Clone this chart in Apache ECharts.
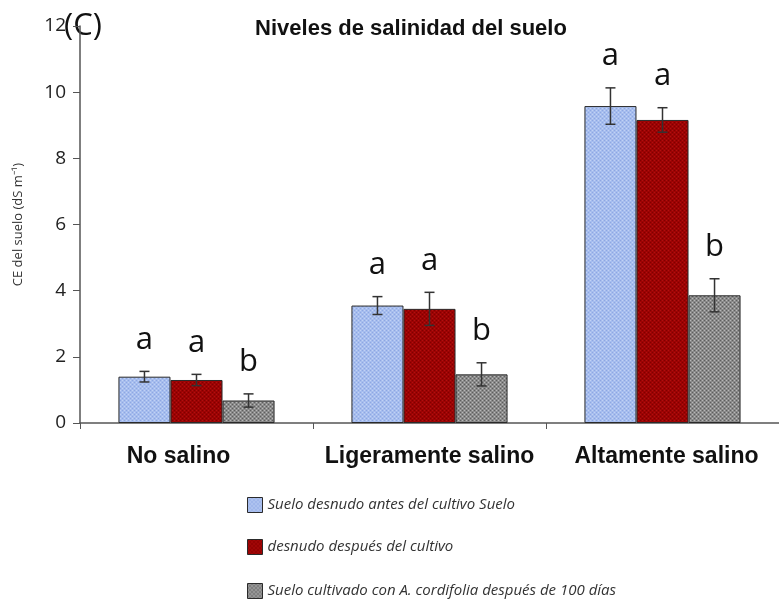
<!DOCTYPE html>
<html><head><meta charset="utf-8">
<script src="https://cdn.jsdelivr.net/npm/echarts@6/dist/echarts.min.js"></script>
<style>html,body{margin:0;padding:0;background:#fff}#c{width:779px;height:600px}</style>
</head><body><div id="c"></div>
<script>
var categories = ['No salino', 'Ligeramente salino', 'Altamente salino'];
var seriesNames = ['Suelo desnudo antes del cultivo Suelo', 'desnudo después del cultivo', 'Suelo cultivado con A. cordifolia después de 100 días'];
var antesValues = [1.40, 3.55, 9.58];
var antesErr = [0.16, 0.27, 0.55];
var antesLetters = ['a', 'a', 'a'];
var despuesValues = [1.30, 3.45, 9.16];
var despuesErr = [0.17, 0.50, 0.37];
var despuesLetters = ['a', 'a', 'a'];
var cultivadoValues = [0.68, 1.47, 3.86];
var cultivadoErr = [0.20, 0.35, 0.50];
var cultivadoLetters = ['b', 'b', 'b'];
var yTicks = [0, 2, 4, 6, 8, 10, 12];

function pattern(base, dot, alt) {
  var c = document.createElement('canvas');
  c.width = 4; c.height = 4;
  var g = c.getContext('2d');
  g.fillStyle = base; g.fillRect(0, 0, 4, 4);
  g.fillStyle = dot;
  g.fillRect(0, 0, 1, 1); g.fillRect(2, 2, 1, 1);
  if (alt) { g.fillStyle = alt; g.fillRect(2, 0, 1, 1); g.fillRect(0, 2, 1, 1); }
  return { image: c, repeat: 'repeat' };
}
var fills = [
  pattern('#a6bdee', '#8ea7e2', '#c2d2f4'),
  pattern('#9c0303', '#7e0000', '#b01010'),
  pattern('#8a8a8a', '#5e5e5e', '#b8b8b8')
];

var chart = echarts.init(document.getElementById('c'));
var vals = [antesValues, despuesValues, cultivadoValues];
var errs = [antesErr, despuesErr, cultivadoErr];
var letters = [antesLetters, despuesLetters, cultivadoLetters];
var gapRatio = 0.33;

var series = [];
for (var s = 0; s < 3; s++) {
  series.push({
    name: seriesNames[s], type: 'bar', data: vals[s],
    barGap: '0%', barCategoryGap: '33%',
    itemStyle: { color: fills[s], borderColor: '#2a2a2a', borderWidth: 1 },
    emphasis: { disabled: true }
  });
}
for (var s2 = 0; s2 < 3; s2++) {
  (function (si) {
    var d = vals[si].map(function (v, i) { return [i, v, errs[si][i]]; });
    series.push({
      type: 'custom', name: seriesNames[si] + '_err', z: 10,
      silent: true,
      data: d,
      encode: { x: 0, y: 1 },
      renderItem: function (params, api) {
        var ci = api.value(0), v = api.value(1), e = api.value(2);
        var band = api.size([1, 0])[0];
        var bw = band * (1 - gapRatio) / 3;
        var c = api.coord([ci, v]);
        var x = c[0] + (si - 1) * bw;
        var top = api.coord([ci, v + e])[1];
        var bot = api.coord([ci, v - e])[1];
        var cap = 5;
        var st = { stroke: '#333', lineWidth: 1.5 };
        return { type: 'group', children: [
          { type: 'line', shape: { x1: x, y1: top, x2: x, y2: bot }, style: st },
          { type: 'line', shape: { x1: x - cap, y1: top, x2: x + cap, y2: top }, style: st },
          { type: 'line', shape: { x1: x - cap, y1: bot, x2: x + cap, y2: bot }, style: st },
          { type: 'text', style: { text: letters[si][ci], x: x, y: top - 16, align: 'center', verticalAlign: 'bottom',
            fontSize: 31, fontFamily: 'Open Sans', fill: '#111' } }
        ] };
      }
    });
  })(s2);
}

var legendTops = [497, 539, 583];
var legends = seriesNames.map(function (n, i) {
  return {
    data: [n], orient: 'vertical', left: 247, top: legendTops[i], padding: 0,
    itemWidth: 15, itemHeight: 15, itemTextGap: 7, icon: 'rect',
    itemStyle: { borderColor: '#2a2a2a', borderWidth: 1 },
    textStyle: { fontStyle: 'italic', fontSize: 15, fontFamily: 'Open Sans', color: '#333' }
  };
});

chart.setOption({
  animation: false,
  backgroundColor: '#fff',
  title: {
    text: 'Niveles de salinidad del suelo', left: 406, textAlign: 'center', top: 13,
    textStyle: { fontSize: 22, fontWeight: 'bold', fontFamily: 'Liberation Sans', color: '#111' }
  },
  graphic: [{ type: 'text', left: 64, top: 11, style: { text: '(C)', fontSize: 31, fontFamily: 'Open Sans', fill: '#111' } }],
  legend: legends,
  grid: { left: 80, top: 26, width: 708, bottom: 177, containLabel: false },
  xAxis: {
    type: 'category',
    data: [{ value: categories[0], textStyle: { padding: [0, 36, 0, 0] } }, categories[1], { value: categories[2], textStyle: { padding: [0, 0, 0, 8] } }],
    axisLine: { lineStyle: { color: '#555', width: 1.5 } },
    axisTick: { show: true, length: 6, lineStyle: { color: '#555' } },
    axisLabel: { interval: 0, hideOverlap: false, fontSize: 23, fontWeight: 'bold', fontFamily: 'Liberation Sans', color: '#111', margin: 22 }
  },
  yAxis: {
    type: 'value', min: 0, max: 12, interval: 2,
    name: 'CE del suelo (dS m\u207B\u00B9)', nameLocation: 'middle', nameGap: 55, nameRotate: 90,
    nameTextStyle: { fontSize: 13, fontFamily: 'Open Sans', color: '#333' },
    axisLine: { show: true, lineStyle: { color: '#555', width: 1.5 } },
    axisTick: { show: true, length: 7, lineStyle: { color: '#555' } },
    splitLine: { show: false },
    axisLabel: { fontSize: 19, fontFamily: 'Open Sans', color: '#222', margin: 14,
      formatter: function (v) { return yTicks.indexOf(v) >= 0 ? String(v) : ''; } }
  },
  series: series
});
</script></body></html>
